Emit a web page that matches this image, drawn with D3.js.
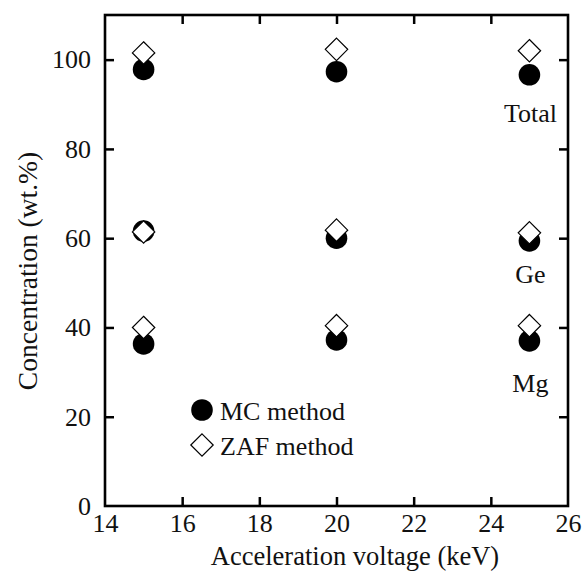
<!DOCTYPE html>
<html><head><meta charset="utf-8">
<script src="https://cdn.jsdelivr.net/npm/d3@7"></script>
<style>body{margin:0;background:#fff}svg{display:block}text{font-family:"Liberation Serif","Times New Roman",serif;fill:#111}</style>
</head><body><svg id="c" width="583" height="571"></svg>
<script>
const voltages = [15, 20, 25];
const mcTotal = [97.8, 97.3, 96.6];
const zafTotal = [101.5, 102.3, 102.0];
const mcGe = [61.6, 60.0, 59.4];
const zafGe = [61.4, 61.8, 61.2];
const mcMg = [36.3, 37.2, 37.0];
const zafMg = [40.0, 40.4, 40.4];
const xTicks = [14, 16, 18, 20, 22, 24, 26];
const yTicks = [0, 20, 40, 60, 80, 100];
const groupLabels = ["Total", "Ge", "Mg"];
const groupLabelAt = [86.0, 50.0, 25.5];

const svg = d3.select("#c");
const L = 105, R = 568, T = 15, B = 506;
const x = d3.scaleLinear().domain([14, 26]).range([L, R]);
const y = d3.scaleLinear().domain([0, 110]).range([B, T]);
const tickLen = 9, fs = 26;

function styleAxis(g){ g.select(".domain").remove(); g.selectAll(".tick line").attr("stroke","#000").attr("stroke-width",2.5); g.selectAll(".tick text").attr("font-size",fs).attr("fill","#111"); }

svg.append("g").attr("transform", `translate(0,${B})`)
  .call(d3.axisBottom(x).tickValues(xTicks).tickSize(-tickLen).tickPadding(8).tickFormat(d3.format("d")))
  .call(styleAxis).call(g => g.selectAll(".tick").filter(d => d === 14 || d === 26).select("line").remove());
svg.append("g").attr("transform", `translate(0,${T})`)
  .call(d3.axisTop(x).tickValues(xTicks.filter(d => d > 14 && d < 26)).tickSize(-tickLen).tickFormat(""))
  .call(styleAxis);
svg.append("g").attr("transform", `translate(${L},0)`)
  .call(d3.axisLeft(y).tickValues(yTicks).tickSize(-tickLen).tickPadding(14).tickFormat(d3.format("d")))
  .call(styleAxis).call(g => g.selectAll(".tick").filter(d => d === 0).select("line").remove());
svg.append("g").attr("transform", `translate(${R},0)`)
  .call(d3.axisRight(y).tickValues(yTicks.filter(d => d > 0)).tickSize(-tickLen).tickFormat(""))
  .call(styleAxis);

// frame
svg.append("rect").attr("x", L).attr("y", T).attr("width", R - L).attr("height", B - T)
  .attr("fill", "none").attr("stroke", "#000").attr("stroke-width", 2.6);

// axis titles
svg.append("text").attr("x", 355).attr("y", 565).attr("text-anchor", "middle")
  .attr("font-size", 26.5).text("Acceleration voltage (keV)");
svg.append("text").attr("transform", `translate(37,271) rotate(-90)`).attr("text-anchor", "middle")
  .attr("font-size", 27.5).text("Concentration (wt.%)");

const circleR = 10.8, dia = 11.2;
const diamond = (cx, cy) => `M${cx},${cy - dia}L${cx + dia},${cy}L${cx},${cy + dia}L${cx - dia},${cy}Z`;

[mcTotal, mcGe, mcMg].forEach(s => {
  svg.append("g").selectAll("circle").data(s).join("circle")
    .attr("cx", (d, i) => x(voltages[i])).attr("cy", d => y(d)).attr("r", circleR).attr("fill", "#000");
});
[zafTotal, zafGe, zafMg].forEach(s => {
  svg.append("g").selectAll("path").data(s).join("path")
    .attr("d", (d, i) => diamond(x(voltages[i]), y(d)))
    .attr("fill", "#fff").attr("stroke", "#000").attr("stroke-width", 1.2);
});

// group labels
groupLabels.forEach((name, i) => {
  svg.append("text").attr("x", x(25) + 1).attr("y", y(groupLabelAt[i])).attr("text-anchor", "middle")
    .attr("font-size", fs).text(name);
});

// legend
const lx = 202, ly1 = 410, ly2 = 445;
svg.append("circle").attr("cx", lx).attr("cy", ly1).attr("r", circleR).attr("fill", "#000");
svg.append("path").attr("d", diamond(lx, ly2)).attr("fill", "#fff").attr("stroke", "#000").attr("stroke-width", 1.2);
svg.append("text").attr("x", 220).attr("y", ly1 + 10).attr("font-size", fs).text("MC method");
svg.append("text").attr("x", 220).attr("y", ly2 + 10).attr("font-size", fs).text("ZAF method");
</script></body></html>
